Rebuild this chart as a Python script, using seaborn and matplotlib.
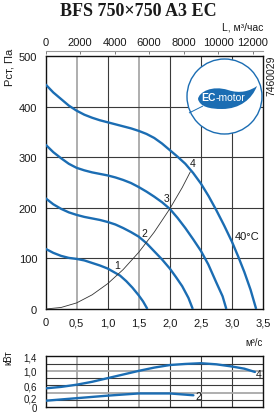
import numpy as np
import pandas as pd
import matplotlib
matplotlib.use("Agg")
import matplotlib.pyplot as plt
import seaborn as sns
from matplotlib.patches import Ellipse, PathPatch
from matplotlib.path import Path
import matplotlib.transforms as mtransforms

# ---------------- data ----------------
q1 = [0, 0.125, 0.25, 0.375, 0.5, 0.625, 0.75, 0.875, 1.0, 1.1, 1.2, 1.3, 1.4, 1.5, 1.57, 1.64]
p1 = [119, 111, 105, 101, 99, 96, 91, 86, 80, 73, 66, 55, 42, 27, 15, 0]
q2 = [0, 0.125, 0.25, 0.375, 0.5, 0.625, 0.75, 0.875, 1.0, 1.125, 1.25, 1.375, 1.5, 1.625,
      1.75, 1.875, 2.0, 2.1, 2.2, 2.3, 2.37]
p2 = [219, 207, 198, 191, 186, 182, 179, 176, 172, 167, 160, 152, 143, 130,
      114, 98, 80, 63, 45, 22, 0]
q3 = [0, 0.125, 0.25, 0.375, 0.5, 0.625, 0.75, 0.875, 1.0, 1.125, 1.25, 1.375, 1.5, 1.625,
      1.75, 1.875, 2.0, 2.125, 2.25, 2.375, 2.5, 2.62, 2.75, 2.85, 2.91]
p3 = [325, 310, 298, 287, 279, 274, 270, 267, 264, 260, 255, 249, 241, 232,
      222, 211, 198, 180, 160, 138, 115, 88, 52, 25, 0]
q4 = [0, 0.125, 0.25, 0.375, 0.5, 0.625, 0.75, 0.875, 1.0, 1.125, 1.25, 1.375, 1.5, 1.625,
      1.75, 1.875, 2.0, 2.125, 2.25, 2.375, 2.5, 2.625, 2.75, 2.875, 3.0, 3.1, 3.2, 3.3, 3.39]
p4 = [444, 428, 415, 402, 392, 384, 378, 373, 369, 365, 361, 357, 352, 346,
      338, 327, 314, 301, 287, 269, 248, 223, 195, 165, 133, 104, 73, 38, 0]

q_sys = [0, 0.25, 0.5, 0.75, 1.0, 1.25, 1.5, 1.75, 2.0, 2.2, 2.33]
p_sys = [0, 3, 12, 28, 50, 78, 112, 152, 198, 240, 271]

qw4 = [0, 0.25, 0.5, 0.75, 1.0, 1.25, 1.5, 1.75, 2.0, 2.25, 2.5, 2.75, 3.0, 3.2, 3.37]
w4 = [0.52, 0.56, 0.62, 0.70, 0.80, 0.90, 1.00, 1.09, 1.16, 1.19, 1.21, 1.18, 1.12, 1.06, 0.97]
qw2 = [0, 0.5, 1.0, 1.5, 2.0, 2.38]
w2 = [0.18, 0.25, 0.32, 0.38, 0.38, 0.33]

x_ticks = [0, 0.5, 1.0, 1.5, 2.0, 2.5, 3.0, 3.5]
x_labels = ["0", "0,5", "1,0", "1,5", "2,0", "2,5", "3,0", "3,5"]
y_ticks = [0, 100, 200, 300, 400, 500]
w_ticks = [0, 0.2, 0.6, 1.0, 1.4]
w_labels = ["0", "0,2", "0,6", "1,0", "1,4"]
top_ticks = [0, 2000, 4000, 6000, 8000, 10000, 12000]

curve_labels = ["1", "2", "3", "4"]
label_pos_q = [1.15, 1.59, 1.95, 2.37]
label_pos_p = [86, 150, 219, 289]

# ---------------- style ----------------
sns.set_style("white")
plt.rcParams["font.family"] = ["Liberation Sans Narrow", "Liberation Sans", "DejaVu Sans"]
BLUE = "#1b6db3"
TXT = "#1a1a1a"
W, H = 277, 414

fig = plt.figure(figsize=(W / 100, H / 100), dpi=100)
fig.patch.set_facecolor("white")

def fx(px):
    return px / W

def fy(py):
    return 1 - py / H

ax = fig.add_axes([fx(45.5), fy(310), 217.5 / W, 253 / H])
ax2 = fig.add_axes([fx(45.5), fy(408.3), 217.5 / W, 51 / H])

# grid lines
for a in (ax, ax2):
    for xv in x_ticks[1:-1]:
        if xv in (0.5, 1.5):
            a.axvline(xv, color="#a8a8a8", lw=1.3, zorder=1)
        else:
            a.axvline(xv, color="#3a3a3a", lw=0.8, zorder=1)
ax.set_xlim(0, 3.5)
ax.set_ylim(0, 500)
for yv in [100, 200, 300, 400]:
    ax.axhline(yv, color="#3a3a3a", lw=0.8, zorder=1)
for yv in [0.2, 0.4, 0.6, 0.8, 1.0, 1.2]:
    if yv in (1.0, 0.4):
        ax2.axhline(yv, color="#a8a8a8", lw=1.3, zorder=1)
    else:
        ax2.axhline(yv, color="#3a3a3a", lw=0.8, zorder=1)

# fan curves
frames = []
for name, q, p in (("1", q1, p1), ("2", q2, p2), ("3", q3, p3), ("4", q4, p4)):
    frames.append(pd.DataFrame({"q": q, "p": p, "curve": name}))
df = pd.concat(frames, ignore_index=True)
sns.lineplot(data=df, x="q", y="p", units="curve", estimator=None, color=BLUE,
             lw=1.7, ax=ax, legend=False, zorder=3, sort=False,
             solid_joinstyle="round", solid_capstyle="butt")
sns.lineplot(x=q_sys, y=p_sys, color="#333333", lw=0.6, ax=ax, zorder=4, sort=False)

for t, xq, yp in zip(curve_labels, label_pos_q, label_pos_p):
    ax.text(xq, yp, t, ha="center", va="center", fontsize=7.5, color=TXT, zorder=5)

ax.text(3.24, 144, "40°C", ha="center", va="center", fontsize=8, color=TXT)

# power curves
dfw = pd.concat([pd.DataFrame({"q": qw4, "w": w4, "curve": "4"}),
                 pd.DataFrame({"q": qw2, "w": w2, "curve": "2"})], ignore_index=True)
sns.lineplot(data=dfw, x="q", y="w", units="curve", estimator=None, color=BLUE,
             lw=1.7, ax=ax2, legend=False, zorder=3, sort=False,
             solid_joinstyle="round")
ax2.text(qw4[-1] + 0.06, w4[-1] - 0.05, "4", ha="center", va="center", fontsize=7.5, color=TXT)
ax2.text(qw2[-1] + 0.08, w2[-1] - 0.03, "2", ha="center", va="center", fontsize=7.5, color=TXT)
ax2.set_xlim(0, 3.5)
ax2.set_ylim(0, 1.4)

# axes formatting
for a in (ax, ax2):
    for s in a.spines.values():
        s.set_visible(True)
        s.set_color("#111111")
        s.set_linewidth(1.0)
    a.set_xlabel("")
    a.set_ylabel("")
    a.tick_params(length=0, labelsize=8, colors=TXT)

ax.set_xticks(x_ticks)
ax.set_xticklabels(x_labels)
ax.set_yticks(y_ticks)
ax.tick_params(axis="y", pad=6)
ax.tick_params(axis="x", pad=6)
ax2.set_xticks(x_ticks)
ax2.set_xticklabels([])
ax2.set_yticks(w_ticks)
ax2.set_yticklabels(w_labels)
ax2.tick_params(axis="y", pad=6, labelsize=7)
# nudge the crowded "0,2" label up a little so it clears "0"
yl = ax2.get_yticklabels()
yl[1].set_transform(yl[1].get_transform() + mtransforms.ScaledTranslation(0, 2.0 / 72, fig.dpi_scale_trans))

secax = ax.secondary_xaxis("top", functions=(lambda x: x * 3600, lambda x: x / 3600))
secax.set_xticks(top_ticks)
secax.set_xticklabels([str(v) for v in top_ticks])
secax.spines["top"].set_position(("outward", 3.6))
secax.spines["top"].set_color("#9a9a9a")
secax.spines["top"].set_linewidth(0.8)
secax.tick_params(axis="x", direction="in", length=2.5, width=0.6, color="#666666",
                  labelsize=8, pad=3, labelcolor=TXT)

# text labels
fig.text(fx(138), fy(11), "BFS 750×750 A3 EC", ha="center", va="center",
         fontsize=13, fontweight="bold", family=["Liberation Serif", "DejaVu Serif"], color=TXT)
fig.text(fx(263), fy(27), "L, м³/час", ha="right", va="center", fontsize=7.5, color=TXT)
fig.text(fx(10), fy(67), "Pст, Па", ha="center", va="center", rotation=90, fontsize=8, color=TXT)
fig.text(fx(271), fy(76), "7460029", ha="center", va="center", rotation=90, fontsize=7.5, color=TXT)
fig.text(fx(263), fy(343), "м³/с", ha="right", va="center", fontsize=7, color=TXT)
fig.text(fx(8), fy(358), "кВт", ha="center", va="center", rotation=90, fontsize=7, color=TXT)

# EC-motor badge
circ = Ellipse((fx(224.5), fy(97.5)), 75 / W, 75 / H, transform=fig.transFigure,
               facecolor="white", edgecolor=BLUE, lw=1.0, zorder=6)
fig.add_artist(circ)

def P(px, py):
    return (fx(px), fy(py))

verts = [P(198, 100),
         P(199, 93), P(212, 86), P(228, 91),
         P(240, 95), P(250, 92), P(257, 87),
         P(252, 100), P(240, 110), P(222, 110),
         P(210, 110), P(200, 108), P(198, 100),
         P(198, 100)]
codes = [Path.MOVETO,
         Path.CURVE4, Path.CURVE4, Path.CURVE4,
         Path.CURVE4, Path.CURVE4, Path.CURVE4,
         Path.CURVE4, Path.CURVE4, Path.CURVE4,
         Path.CURVE4, Path.CURVE4, Path.CURVE4,
         Path.CLOSEPOLY]
leaf = PathPatch(Path(verts, codes), transform=fig.transFigure, facecolor=BLUE,
                 edgecolor="none", zorder=7)
fig.add_artist(leaf)
stem_v = [P(203, 107), P(197, 110), P(193, 112), P(189, 114)]
stem = PathPatch(Path(stem_v, [Path.MOVETO, Path.CURVE4, Path.CURVE4, Path.CURVE4]),
                 transform=fig.transFigure, facecolor="none", edgecolor=BLUE, lw=0.7, zorder=7)
fig.add_artist(stem)
fig.text(fx(216), fy(98.5), "EC", ha="right", va="center", fontsize=7.5, fontweight="bold",
         color="white", zorder=8, family=["Liberation Sans", "DejaVu Sans"])
fig.text(fx(216), fy(98.5), "-motor", ha="left", va="center", fontsize=7.5,
         color="white", zorder=8, family=["Liberation Sans", "DejaVu Sans"])

fig.savefig("out.png", dpi=100, facecolor="white")
